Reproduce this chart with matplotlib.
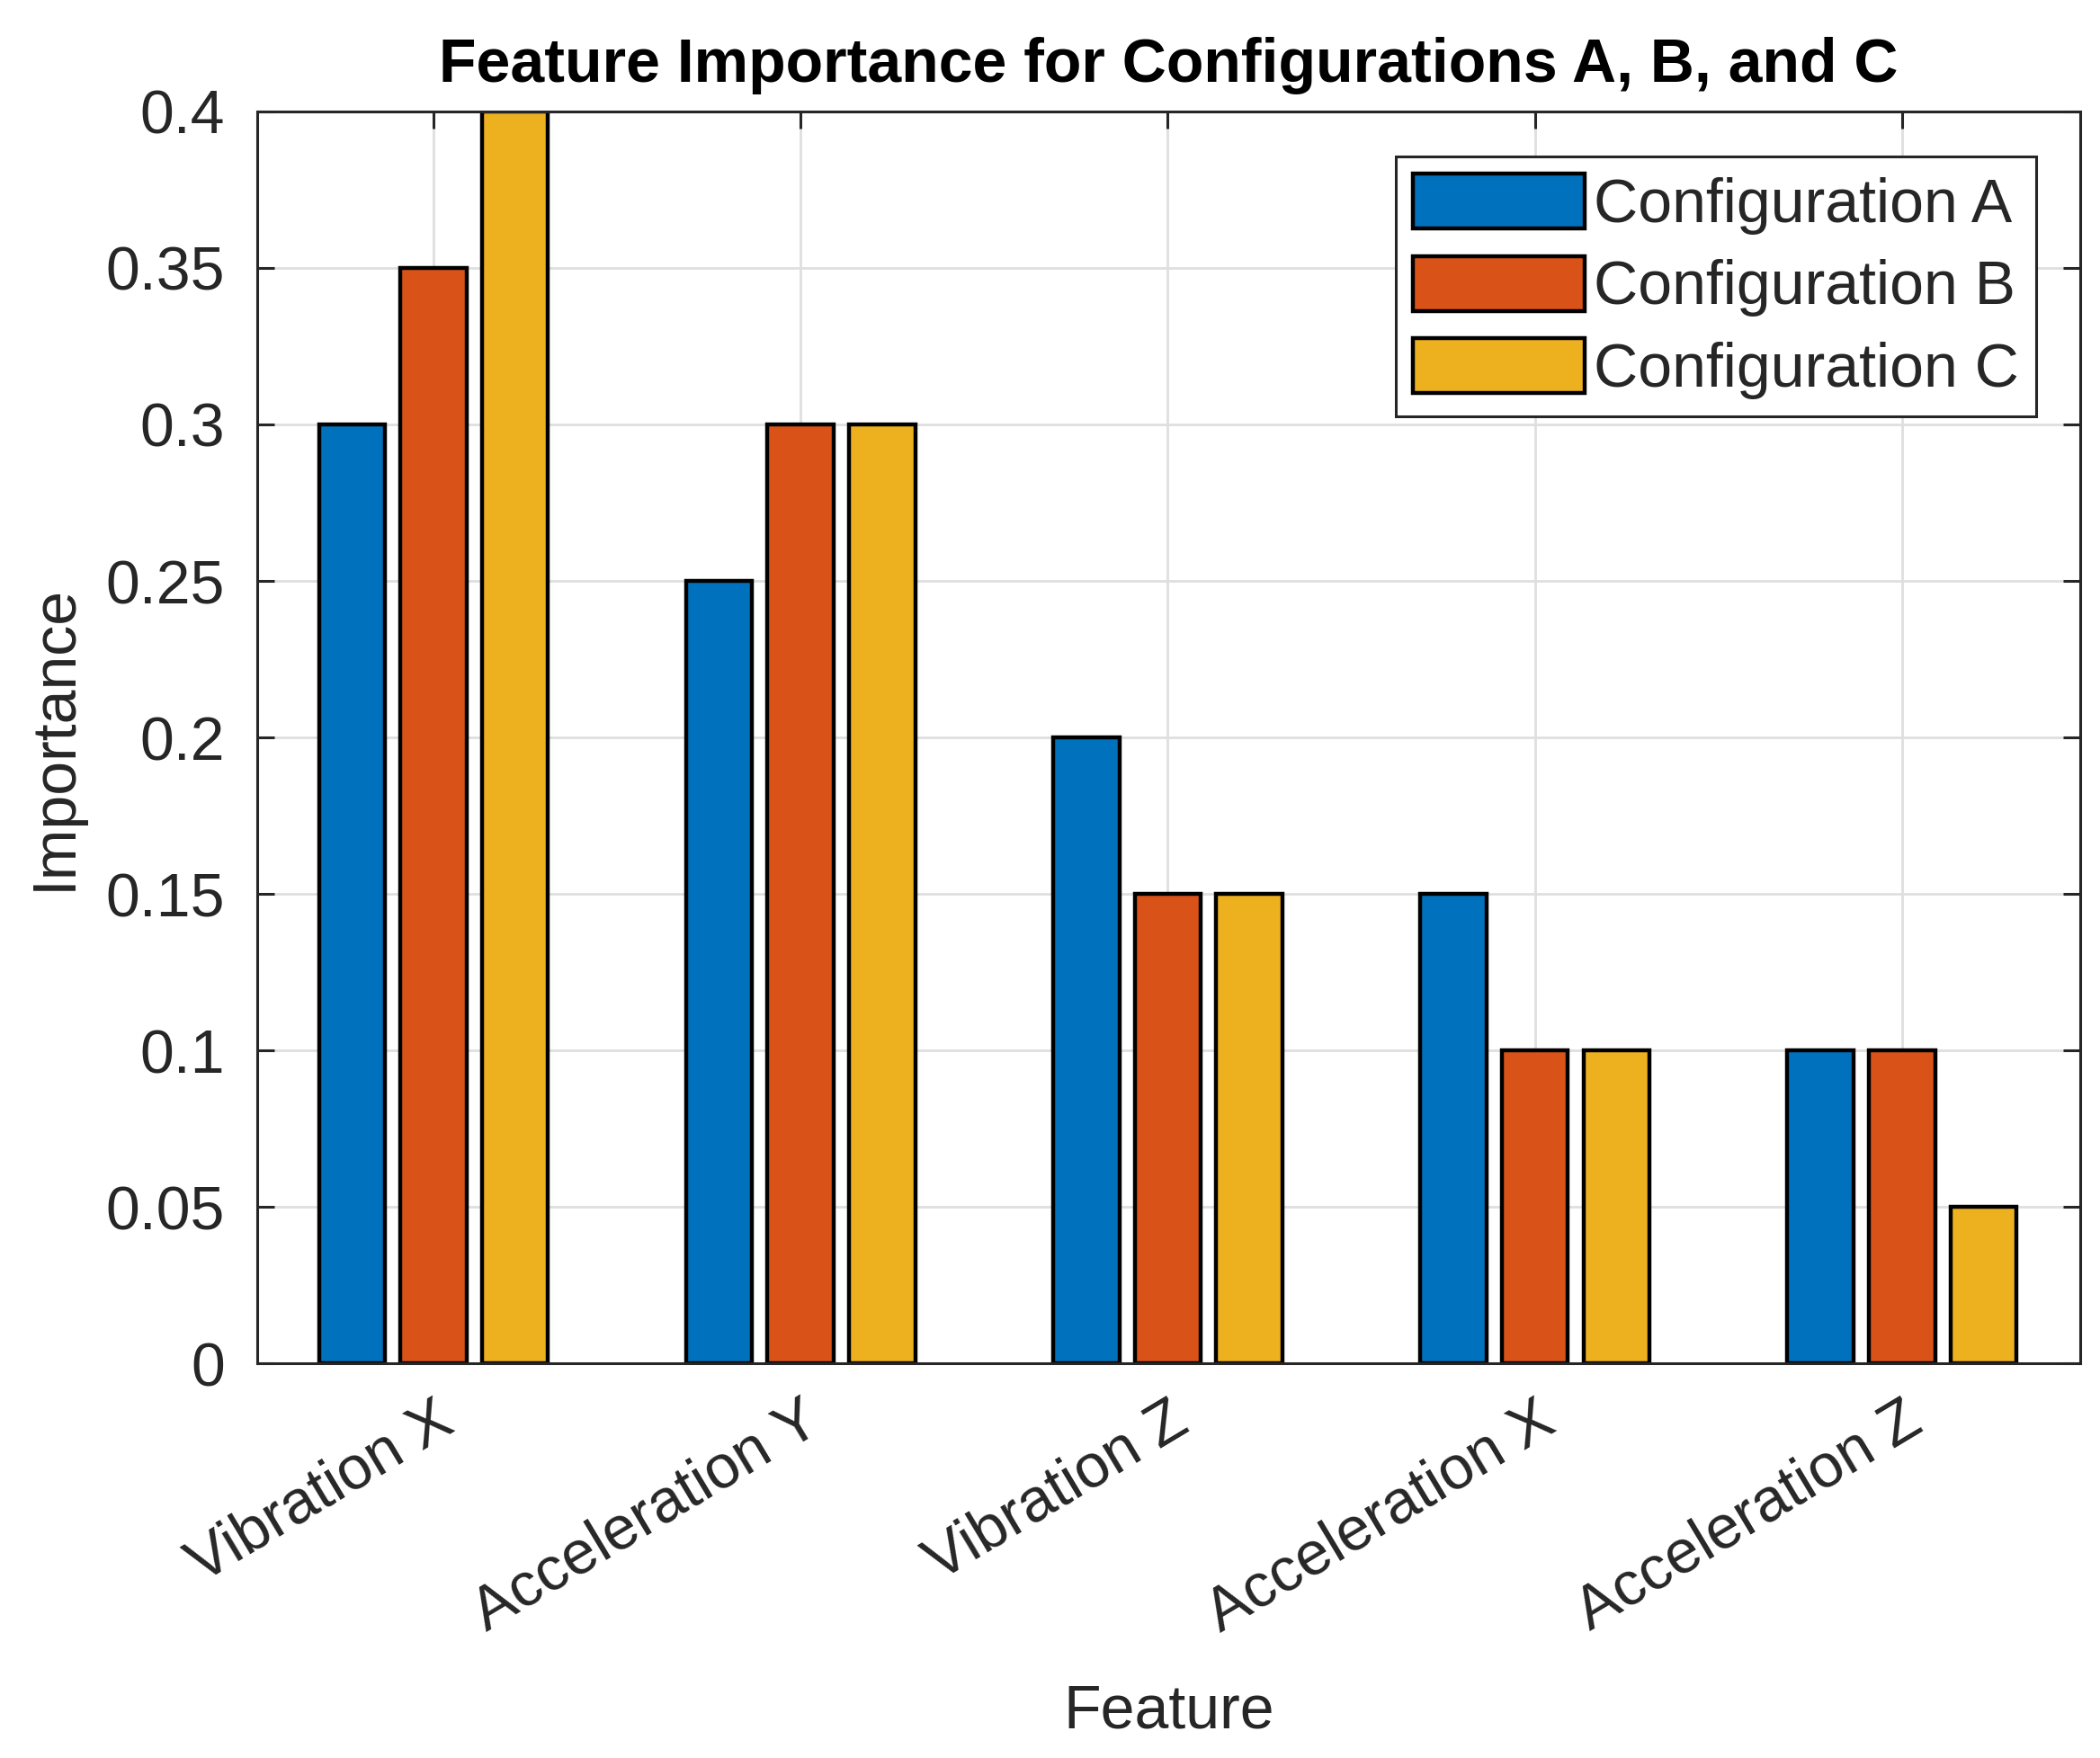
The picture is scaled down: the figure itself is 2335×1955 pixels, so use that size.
import numpy as np
import matplotlib
matplotlib.use("Agg")
import matplotlib.pyplot as plt
from matplotlib.ticker import FuncFormatter

features = ["Vibration X", "Acceleration Y", "Vibration Z", "Acceleration X", "Acceleration Z"]
config_a = [0.30, 0.25, 0.20, 0.15, 0.10]
config_b = [0.35, 0.30, 0.15, 0.10, 0.10]
config_c = [0.40, 0.30, 0.15, 0.10, 0.05]
series_names = ["Configuration A", "Configuration B", "Configuration C"]
y_ticks = [0, 0.05, 0.1, 0.15, 0.2, 0.25, 0.3, 0.35, 0.4]

colors = ["#0072BD", "#D95319", "#EDB120"]
axis_color = "#262626"
fs = 24.5

plt.rcParams["font.family"] = ["Liberation Sans", "DejaVu Sans"]

fig = plt.figure(figsize=(11.675, 9.775), dpi=200)
ax = fig.add_axes([0.1225, 0.2245, 0.868, 0.7121])

x = np.arange(1, len(features) + 1)
width = 0.18
offset = 0.222
for i, (vals, name) in enumerate(zip([config_a, config_b, config_c], series_names)):
    ax.bar(x + (i - 1) * offset, vals, width, color=colors[i], edgecolor="black",
           linewidth=1.6, label=name, zorder=3)

ax.set_xlim(0.52, 5.485)
ax.set_ylim(0, 0.4)
ax.set_xticks(x)
ax.set_xticklabels(features, rotation=31, ha="right", rotation_mode="anchor")
ax.set_yticks(y_ticks)
ax.yaxis.set_major_formatter(FuncFormatter(lambda v, p: "%g" % v))

ax.grid(True, color="#DFDFDF", linewidth=1.0, zorder=0)
ax.set_axisbelow(True)
ax.tick_params(direction="in", length=7, width=1.1, color=axis_color,
               labelsize=fs, labelcolor=axis_color, top=True, right=True)
ax.tick_params(axis="y", pad=13)
ax.tick_params(axis="x", pad=11)
for s in ax.spines.values():
    s.set_linewidth(1.1)
    s.set_color(axis_color)
    s.set_zorder(4)

ax.set_title("Feature Importance for Configurations A, B, and C", fontsize=24.5,
             fontweight="bold", pad=12, color="black")
ax.set_xlabel("Feature", fontsize=fs, color=axis_color, labelpad=16)
ax.set_ylabel("Importance", fontsize=fs, color=axis_color, labelpad=9)

leg = ax.legend(loc="upper right", bbox_to_anchor=(0.976, 0.964), borderaxespad=0,
                fontsize=fs, handlelength=2.8, handleheight=1.0, handletextpad=0.15,
                labelspacing=0.35, borderpad=0.28, fancybox=False, framealpha=1,
                edgecolor=axis_color)
leg.get_frame().set_linewidth(1.1)
for t in leg.get_texts():
    t.set_color(axis_color)

fig.savefig("out.png", dpi=200)
